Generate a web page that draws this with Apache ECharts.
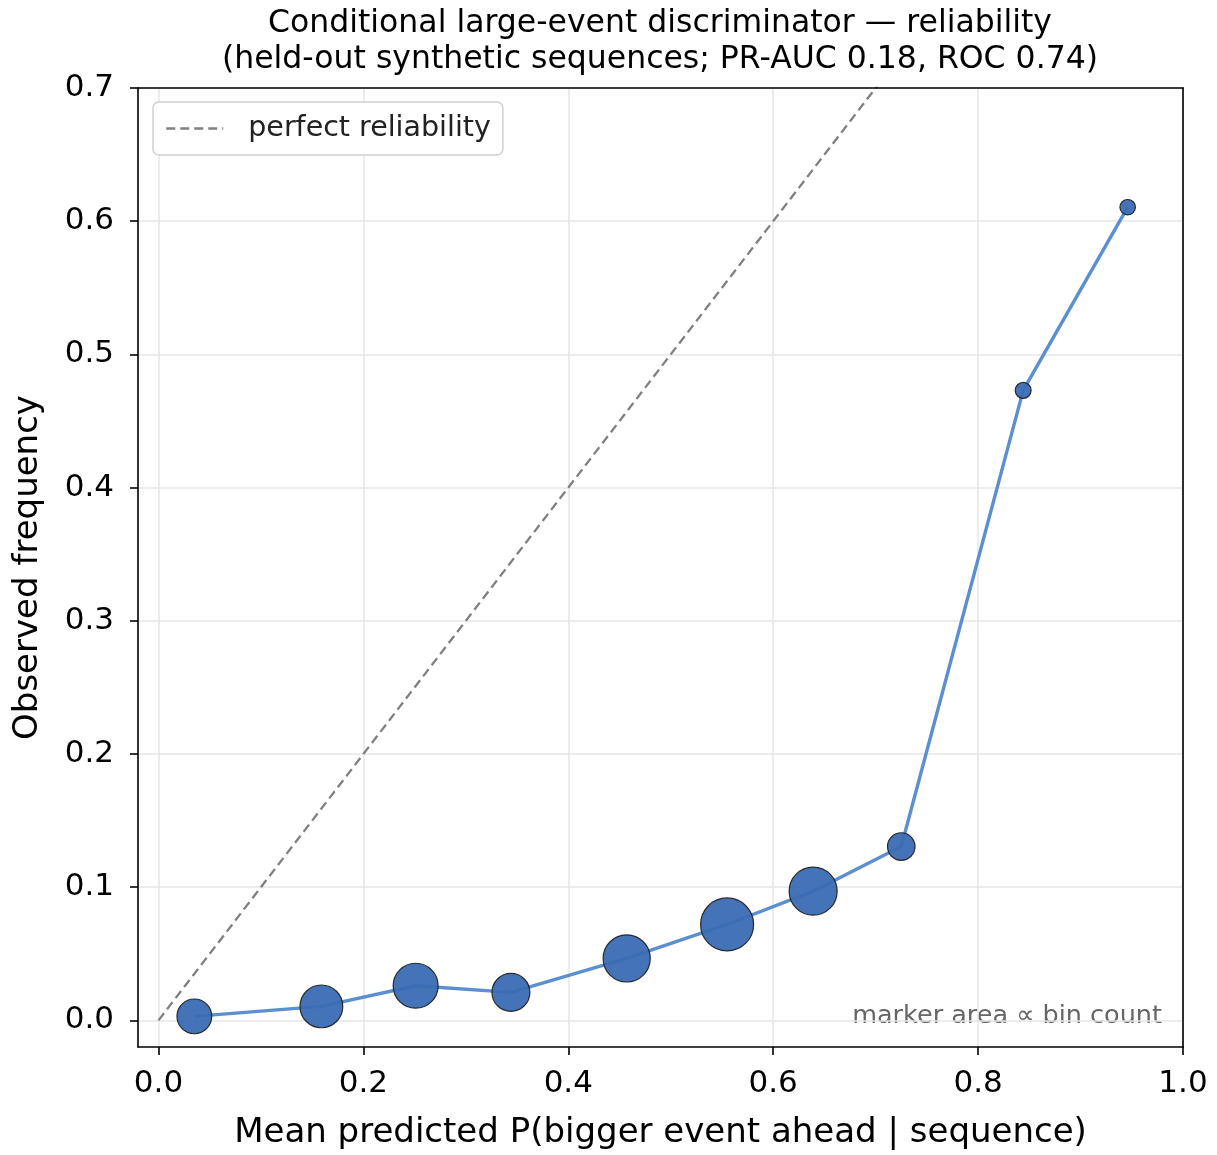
<!DOCTYPE html>
<html>
<head>
<meta charset="utf-8">
<script src="https://cdn.jsdelivr.net/npm/echarts@6/dist/echarts.min.js"></script>
<style>
  html, body { margin: 0; padding: 0; background: #fff; }
  #chart { width: 1217px; height: 1155px; }
</style>
</head>
<body>
<div id="chart"></div>
<script>
// Reliability bins: mean predicted probability, observed frequency, bin count
const meanPredicted = [0.035, 0.159, 0.251, 0.344, 0.457, 0.555, 0.639, 0.725, 0.844, 0.946];
const observedFreq  = [0.003, 0.0105, 0.026, 0.021, 0.0465, 0.072, 0.097, 0.1305, 0.473, 0.6105];
const binCount      = [430, 650, 720, 510, 790, 1000, 820, 270, 90, 85];

// Tick values
const xTicks = [0.0, 0.2, 0.4, 0.6, 0.8, 1.0];
const yTicks = [0.0, 0.1, 0.2, 0.3, 0.4, 0.5, 0.6, 0.7];

// Diagonal reference
const diagonal = [[0, 0], [1, 1]];

const FONT = 'DejaVu Sans';
const maxCount = Math.max(...binCount);
// marker area proportional to count
const sizeOf = c => 53 * Math.sqrt(c / maxCount);

const points = meanPredicted.map((x, i) => [x, observedFreq[i], binCount[i]]);

const chart = echarts.init(document.getElementById('chart'), null, { renderer: 'canvas' });

const axisLineStyle = { color: '#000', width: 1.6 };

const mainAxis = {
  type: 'value',
  axisLine: { show: true, onZero: false, lineStyle: axisLineStyle },
  splitLine: { show: true, lineStyle: { color: '#e6e6e6', width: 1.5 } },
  nameTextStyle: { fontFamily: FONT, fontSize: 34, color: '#000' }
};

// frame-only axes for the top and right edges
const frameAxis = {
  type: 'value',
  axisLine: { show: true, onZero: false, lineStyle: axisLineStyle },
  axisTick: { show: false },
  axisLabel: { show: false },
  splitLine: { show: false },
  z: 5
};

chart.setOption({
  animation: false,
  backgroundColor: '#fff',
  grid: {
    left: 138, right: 34, top: 88, bottom: 108,
    show: false
  },
  xAxis: [
    Object.assign({}, mainAxis, {
      min: -0.02, max: 1.0,
      position: 'bottom',
      name: 'Mean predicted P(bigger event ahead | sequence)',
      nameLocation: 'middle', nameGap: 69,
      axisTick: { show: true, length: 8, customValues: xTicks, lineStyle: axisLineStyle },
      axisLabel: {
        customValues: xTicks, margin: 21,
        fontFamily: FONT, fontSize: 31, color: '#000',
        formatter: v => v.toFixed(1)
      }
    }),
    Object.assign({}, frameAxis, { min: -0.02, max: 1.0, position: 'top' })
  ],
  yAxis: [
    Object.assign({}, mainAxis, {
      min: -0.02, max: 0.7,
      position: 'left',
      name: 'Observed frequency',
      nameLocation: 'middle', nameGap: 93, nameRotate: 90,
      axisTick: { show: true, length: 8, customValues: yTicks, lineStyle: axisLineStyle },
      axisLabel: {
        customValues: yTicks, margin: 24,
        fontFamily: FONT, fontSize: 31, color: '#000',
        formatter: v => v.toFixed(1)
      }
    }),
    Object.assign({}, frameAxis, { min: -0.02, max: 0.7, position: 'right' })
  ],
  legend: {
    left: 153, top: 102,
    data: [{ name: 'perfect reliability' }],
    backgroundColor: '#fff',
    borderColor: '#d0d0d0', borderWidth: 1.5, borderRadius: 6,
    padding: [12, 12, 12, 12],
    itemWidth: 57, itemHeight: 14,
    itemStyle: { opacity: 0, borderWidth: 0 },
    lineStyle: { width: 2.5 },
    textStyle: { fontFamily: FONT, fontSize: 28.5, color: '#222', padding: [0, 0, 0, 20] }
  },
  graphic: [
    {
      type: 'text', x: 660, y: 6,
      style: {
        text: 'Conditional large-event discriminator — reliability\n(held-out synthetic sequences; PR-AUC 0.18, ROC 0.74)',
        fontFamily: FONT, fontSize: 31.5, lineHeight: 36, fill: '#000', align: 'center'
      }
    },
    {
      type: 'text', right: 55, top: 1003,
      style: {
        text: 'marker area ∝ bin count',
        fontFamily: FONT, fontSize: 25.5, fill: '#666'
      }
    }
  ],
  series: [
    {
      name: 'perfect reliability',
      type: 'line',
      data: diagonal,
      symbol: 'none',
      clip: true,
      lineStyle: { color: '#808080', width: 2.3, type: [9, 5] },
      itemStyle: { color: '#808080' },
      z: 1
    },
    {
      name: 'reliability',
      type: 'line',
      data: points,
      symbol: 'none',
      lineStyle: { color: '#5b8fd0', width: 3.4 },
      z: 2
    },
    {
      name: 'bins',
      type: 'scatter',
      data: points,
      symbolSize: d => sizeOf(d[2]),
      itemStyle: { color: '#3a6db3', borderColor: '#222', borderWidth: 1.2, opacity: 0.95 },
      z: 3
    }
  ]
});
</script>
</body>
</html>
